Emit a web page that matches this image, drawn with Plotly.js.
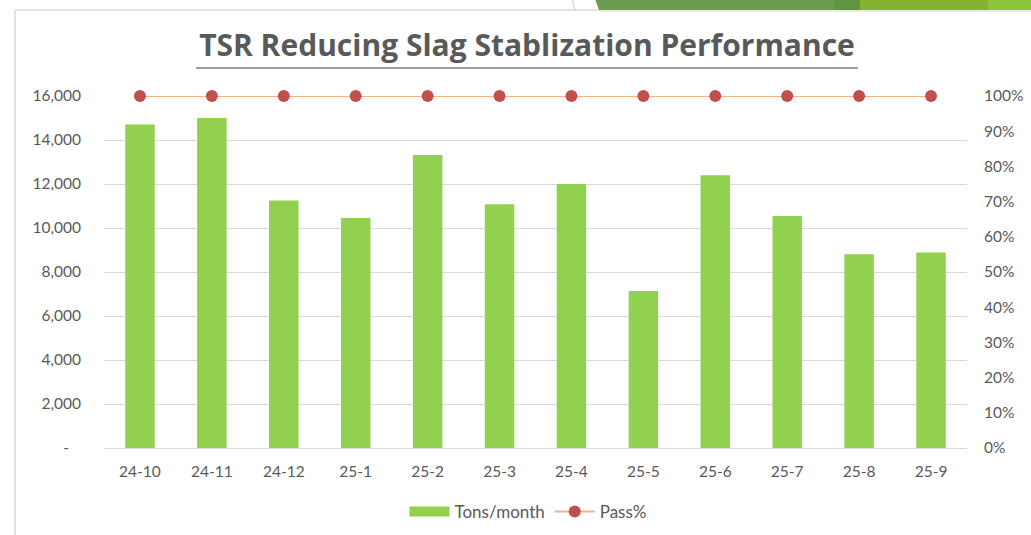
<!DOCTYPE html>
<html>
<head>
<meta charset="utf-8">
<script src="https://cdn.plot.ly/plotly-3.0.1.min.js"></script>
<style>html,body{margin:0;padding:0;background:#fff;}#chart{width:1031px;height:535px;}</style>
</head>
<body>
<div id="chart"></div>
<script>
// ---- data ----
const months = ["24-10","24-11","24-12","25-1","25-2","25-3","25-4","25-5","25-6","25-7","25-8","25-9"];
const tonsPerMonth = [14700, 15000, 11250, 10450, 13320, 11080, 12000, 7140, 12400, 10540, 8810, 8890];
const passPct = [1, 1, 1, 1, 1, 1, 1, 1, 1, 1, 1, 1];
const leftTickVals = [0, 2000, 4000, 6000, 8000, 10000, 12000, 14000, 16000];
const leftTickText = ["-\u00a0\u00a0\u00a0", "2,000", "4,000", "6,000", "8,000", "10,000", "12,000", "14,000", "16,000"];
const titleText = "TSR Reducing Slag Stablization Performance";

// ---- layout helpers (pixel -> paper) ----
const W = 1031, H = 535, ML = 104, MR = 64, MT = 96, MB = 87;
const PW = W - ML - MR, PH = H - MT - MB;
const px = v => (v - ML) / PW;
const py = v => (H - MB - v) / PH;

const FONT = "Lato, 'Noto Sans', sans-serif";
const TFONT = "'Open Sans', 'Noto Sans', sans-serif";
const GREY = "#595959";

const traces = [
  {
    type: "bar", name: "Tons/month", x: months, y: tonsPerMonth,
    marker: {color: "#92D050"}, showlegend: false, yaxis: "y", hoverinfo: "x+y"
  },
  {
    type: "scatter", mode: "lines", name: "Tons/month", x: [months[0]], y: [null],
    line: {color: "#92D050", width: 10}, showlegend: true, hoverinfo: "skip"
  },
  {
    type: "scatter", mode: "lines+markers", name: "Pass%", x: months, y: passPct,
    yaxis: "y2", cliponaxis: false,
    line: {color: "#F4B183", width: 2},
    marker: {color: "#C0504D", size: 12}
  }
];

const shapes = [
  // chart frame
  {type: "line", xref: "paper", yref: "paper", x0: px(15), x1: px(15), y0: py(10), y1: py(540), line: {color: "#D9D9D9", width: 1.5}},
  {type: "line", xref: "paper", yref: "paper", x0: px(15), x1: px(1040), y0: py(10), y1: py(10), line: {color: "#D9D9D9", width: 1.5}},
  // decorative top bar
  {type: "path", xref: "paper", yref: "paper", fillcolor: "#6B9C50", line: {width: 0},
   path: `M${px(595)},${py(-1)} L${px(834)},${py(-1)} L${px(834)},${py(10)} L${px(599)},${py(10)} Z`},
  {type: "rect", xref: "paper", yref: "paper", fillcolor: "#5F9443", line: {width: 0}, x0: px(834), x1: px(860), y0: py(-1), y1: py(10)},
  {type: "rect", xref: "paper", yref: "paper", fillcolor: "#84B131", line: {width: 0}, x0: px(860), x1: px(988), y0: py(-1), y1: py(10)},
  {type: "rect", xref: "paper", yref: "paper", fillcolor: "#8DC43C", line: {width: 0}, x0: px(988), x1: px(1040), y0: py(-1), y1: py(10)},
  {type: "line", xref: "paper", yref: "paper", x0: px(600), x1: px(1040), y0: py(11), y1: py(11), line: {color: "#E4EED8", width: 2}},
  {type: "line", xref: "paper", yref: "paper", x0: px(572), x1: px(575), y0: py(-1), y1: py(10), line: {color: "#C8C8C8", width: 1}},
  // title underline
  {type: "line", xref: "paper", yref: "paper", x0: px(196), x1: px(858), y0: py(68), y1: py(68), line: {color: "#7F7F7F", width: 1.5}}
];

const layout = {
  width: W, height: H,
  margin: {l: ML, r: MR, t: MT, b: MB, pad: 0},
  paper_bgcolor: "#ffffff", plot_bgcolor: "#ffffff",
  font: {family: FONT, color: GREY, size: 15},
  title: {
    text: titleText,
    font: {family: TFONT, size: 30, color: GREY, weight: 700},
    xref: "container", x: 527 / W, xanchor: "center",
    yref: "container", y: 1 - 45 / H, yanchor: "middle"
  },
  bargap: 0.59,
  xaxis: {
    type: "category", range: [-0.5, months.length - 0.5], autorange: false,
    showgrid: false, showline: true, linecolor: "#D9D9D9", linewidth: 1,
    ticks: "outside", ticklen: 9, tickcolor: "rgba(0,0,0,0)",
    tickfont: {family: FONT, size: 15.5, color: GREY}, zeroline: false
  },
  yaxis: {
    range: [0, 16000], tickvals: leftTickVals, ticktext: leftTickText,
    showgrid: true, gridcolor: "#D9D9D9", gridwidth: 1, zeroline: false, showline: false,
    ticks: "outside", ticklen: 19, tickcolor: "rgba(0,0,0,0)",
    tickfont: {family: FONT, size: 15.5, color: GREY}, fixedrange: true
  },
  yaxis2: {
    overlaying: "y", side: "right", range: [0, 1], dtick: 0.1, tick0: 0, tickformat: ".0%",
    showgrid: false, zeroline: false, showline: false,
    ticks: "outside", ticklen: 13, tickcolor: "rgba(0,0,0,0)",
    tickfont: {family: FONT, size: 15.5, color: GREY}, fixedrange: true
  },
  legend: {
    orientation: "h", xref: "container", x: 528 / W, xanchor: "center",
    yref: "container", y: 1 - 512 / H, yanchor: "middle",
    font: {family: FONT, size: 17, color: GREY}, itemwidth: 40, traceorder: "normal"
  },
  shapes: shapes,
  showlegend: true
};

Plotly.newPlot("chart", traces, layout, {displayModeBar: false, staticPlot: true});
</script>
</body>
</html>
